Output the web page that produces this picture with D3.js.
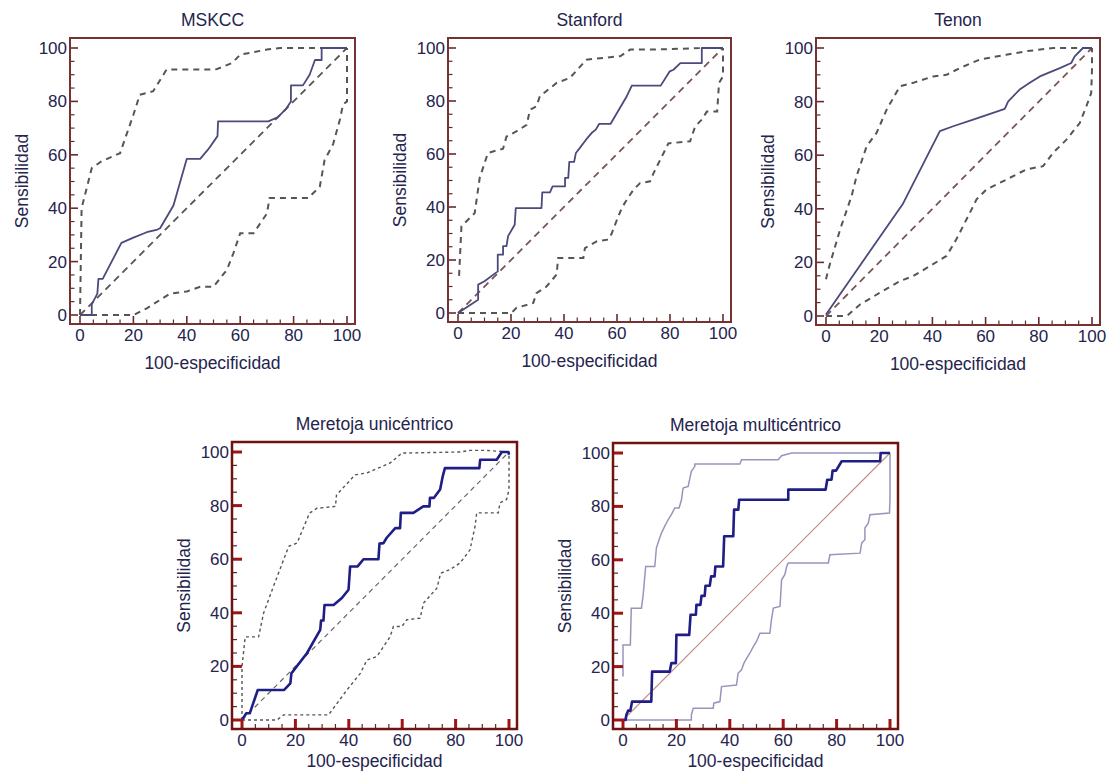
<!DOCTYPE html>
<html>
<head>
<meta charset="utf-8">
<script src="https://cdn.jsdelivr.net/npm/d3@7"></script>
<style>
  body { margin: 0; background: #fff; }
  text { font-family: "Liberation Sans", Arial, Helvetica, sans-serif; fill: #24244e; }
</style>
</head>
<body>
<script>
var width = 1107,
    height = 776;

// ROC curves, [100-especificidad, sensibilidad]
var mskccRoc = [[0,0],[4.4,0],[4.4,4],[6.5,8],[6.9,13.5],[8.5,13.5],[15.5,27],[20,29],[25,31],[29,32],[30,32.5],[35,41],[40,58.5],[45,58.5],[48,62],[51.5,67],[51.7,72.5],[70.5,72.5],[74,74],[77,77],[79,80],[79,86],[83.5,86],[86,90],[88,95.5],[90.5,95.5],[90.5,100],[100,100]];
var mskccUpper = [[0,0],[0.6,40],[4.4,55],[8,57.5],[15,60.6],[20,75],[22.4,82.5],[27.4,83.8],[32.4,91.9],[51,92],[57,94.4],[60,97.5],[70,99.4],[75,100],[100,100]];
var mskccLower = [[0,0],[20,0],[25,2.5],[33.7,8],[40,8.8],[45,10.6],[50,10.6],[55,16.9],[57.4,23],[60,30.6],[65,30.6],[70,38],[71,43.8],[85.4,43.8],[89.8,48],[91.6,58],[94.8,64],[97.3,73],[98.5,78.8],[100,80],[100,100]];

var stanfordRoc = [[0,0],[7.6,5],[7.6,10.7],[10,12],[15,15.7],[15,22],[17,22],[17,25.2],[18.3,25.2],[18.9,29],[21.4,33.3],[21.8,39.6],[31.5,39.6],[31.8,45.5],[34.7,45.5],[35.7,47.8],[40.4,47.8],[40.4,51],[41.6,51],[42,57],[43.8,57],[44.5,60.4],[46,62.3],[48.3,65.4],[50.4,67.9],[52,69.2],[53.3,71.4],[57.6,71.4],[63.7,81.8],[65.6,85.8],[76.5,85.8],[79.9,91.2],[81.3,91.8],[83.9,94.3],[92,94.3],[92,100],[100,100]];
var stanfordUpper = [[0.4,14],[1.3,32.7],[6.3,37.7],[8.2,51],[11.3,60.4],[17,62],[18.3,66.6],[22,68.5],[25.9,71],[27.2,76.7],[29.6,78],[30.9,81.8],[37.2,86.8],[42.2,88.7],[48.5,95.6],[61.2,96.9],[65,99.4],[77.6,99.5],[92.7,100],[100,100]];
var stanfordLower = [[0,0],[20.2,0],[22,1.9],[28.4,3.8],[29.6,7.5],[33.4,10],[37.2,14.5],[37.8,20.8],[47.3,20.8],[47.9,24.5],[52.3,27],[56.7,27.7],[58,30],[59.9,35],[61.8,39.6],[63.7,42.8],[66.2,46.5],[68.7,49],[72.5,49.7],[73.8,52.8],[77.6,60.4],[79.4,64],[87.6,64.8],[89.5,70.4],[92,73],[93.9,76],[97.8,76],[98.5,86.8],[100,89.3],[100,100]];

var tenonRoc = [[0,0.6],[29,42],[42.8,69],[47.8,70.8],[55.3,73.3],[62.8,75.8],[67.2,77.3],[68.5,80.1],[72.8,84.5],[76.6,87],[80.4,89.4],[87.9,92.5],[92.2,94.4],[93.5,96.9],[96.6,100],[100,100]];
var tenonUpper = [[0,13.7],[0.9,17.4],[5.3,32.3],[9.6,44.7],[11.5,52.2],[15.3,63.4],[19,68.3],[22.8,77],[27.8,85.7],[32.8,87],[40.3,89.4],[45.3,90],[50.3,92.5],[57.8,95.7],[67.8,97.5],[75.3,98.8],[85.4,100],[100,100]];
var tenonLower = [[0,0],[7.8,0],[12.8,4.3],[20.3,8.7],[27.8,13],[32.8,14.9],[39,18.6],[45.3,22.4],[49,28.6],[52.8,36],[56.6,43.5],[60.3,47.2],[67.8,50.9],[75.3,54.7],[81.6,55.9],[85.4,60.9],[90.4,65.8],[95.4,72],[97.9,78.3],[99.7,83.2],[100,92],[100,100]];

var uniRoc = [[0,0],[1.2,1.9],[1.6,2.5],[2.9,2.5],[5.9,11.2],[15.8,11.2],[18.1,13.7],[18.5,17.4],[24.3,24.9],[29.3,33.6],[29.6,37.1],[30.5,37.1],[30.9,42.9],[34.3,42.9],[37.4,45.5],[39.9,48.6],[40.5,57.3],[43.3,57.3],[45.5,60],[51.1,60],[51.5,65.8],[53,66],[54.2,68],[57.4,71.6],[59.2,71.6],[59.5,77.3],[64.2,77.3],[67.9,79.7],[70.2,79.7],[70.4,82.9],[71.9,82.9],[74.2,86],[75.2,91],[76,94],[88.9,94],[89.2,97.1],[95.4,97.1],[97.3,100],[99.8,100],[100,99]];
var uniUpper = [[0,0],[0,20],[1.2,31],[6.2,31],[8.1,39.9],[11.8,49.9],[17.5,64.8],[20.6,66],[25.3,77.2],[28.1,79],[35,79.7],[35.4,84],[42.4,91.5],[46.8,92.2],[55.5,95.9],[59.9,99.6],[81.7,100],[85.4,100.6],[91.6,100.6],[100,100]];
var uniLower = [[0,0],[13.1,0],[15.6,1.9],[32.4,1.9],[39.3,11.2],[44.3,17.4],[46.8,22.4],[50.5,23.7],[55.5,31.1],[56.7,34.9],[59.9,34.9],[61.7,37.4],[66.7,38],[68,43.6],[73,49.2],[74.4,54.8],[77.9,56.1],[81.7,58.6],[85.4,63.5],[87.3,72.3],[87.9,77.3],[96,77.3],[96.6,81],[99.1,82.3],[100,86],[100,99.6]];

var multiRoc = [[0,0],[1,0],[1.25,1.9],[1.9,3.5],[2.75,3.5],[3.4,6.9],[10.6,6.9],[10.9,18.1],[17.5,18.1],[18.1,21.3],[19.8,21.3],[20,31.9],[24.8,31.9],[25.3,39.4],[27.3,39.4],[27.5,43.1],[29,43.1],[29.4,46.5],[30.6,46.5],[30.9,50.3],[32.5,50.3],[33,53.8],[34.3,53.8],[34.6,57.5],[37.5,57.5],[37.9,68.8],[41.3,68.8],[41.6,78.8],[43.2,78.8],[43.5,82.5],[61.9,82.5],[61.9,86.3],[75.9,86.3],[76.5,90],[78.1,90],[78.5,93.4],[79.8,93.4],[81.9,96.9],[96.3,96.9],[96.5,100],[100,100]];
var multiUpper = [[0,16.3],[0,28.1],[2.75,28.1],[3.1,41.9],[6.9,41.9],[7.5,46.3],[8.5,57.5],[11.9,57.5],[12.5,64.4],[13.5,67.5],[14.4,70],[15.6,72.5],[16.9,75],[18.1,76.9],[19.4,79.4],[21,79.4],[21.9,82.5],[22.5,86.9],[24.4,87.5],[25.6,93.1],[26.9,95],[26.9,95.9],[43.8,95.9],[44.4,97.5],[58.1,97.5],[59.4,99],[63.1,100],[100,100]];
var multiLower = [[0,0],[25.6,0],[25.6,1.9],[26.3,4.4],[33.8,4.4],[34,6.3],[36.3,6.9],[36.9,12.5],[42.5,13.1],[43.1,17.5],[44.4,18.8],[45.3,21.3],[46.3,23.1],[47.5,25],[48.8,27.5],[50,29.4],[51.3,32.5],[55,32.5],[55.6,37.5],[56.3,41.9],[58.8,42.5],[59.4,52.5],[60.6,54.4],[61.3,57.5],[61.9,58.8],[76.9,58.8],[77.5,61.9],[88.8,62.5],[89.4,66.3],[90.6,67.5],[90.6,71.9],[91.9,73.8],[92.5,76.9],[99.8,77.5],[100,82.5],[100,100]];

var diagonal = [[0,0],[100,100]];
var tickValues = [0, 20, 40, 60, 80, 100];
var xLabel = "100-especificidad",
    yLabel = "Sensibilidad";

// panel layout: pixel span of 0..100 on each axis
var panels = [
  {title: "MSKCC", roc: mskccRoc, upper: mskccUpper, lower: mskccLower, x0: 80, x1: 347, y0: 315, y1: 48, style: "top", labGap: 45},
  {title: "Stanford", roc: stanfordRoc, upper: stanfordUpper, lower: stanfordLower, x0: 458, x1: 723, y0: 313, y1: 48, style: "top", diagColor: "#7a5555", labGap: 45},
  {title: "Tenon", roc: tenonRoc, upper: tenonUpper, lower: tenonLower, x0: 826, x1: 1092, y0: 316, y1: 48, style: "top", diagColor: "#7a5555", labGap: 45},
  {title: "Meretoja unicéntrico", roc: uniRoc, upper: uniUpper, lower: uniLower, x0: 242, x1: 509, y0: 720, y1: 452, style: "uni", labGap: 38},
  {title: "Meretoja multicéntrico", roc: multiRoc, upper: multiUpper, lower: multiLower, x0: 623, x1: 890, y0: 720, y1: 453, style: "multi", labGap: 38}
];

var styles = {
  top:   {frame: "#763232", frameW: 2, major: "#6a2a2a", majorW: 1.6, majorL: 8, minorL: 4.5,
          roc: "#4a4a7c", rocW: 1.8,
          ci: "#555", ciW: 2, ciDash: "6,5",
          diag: "#555", diagW: 1.8, diagDash: "7,5"},
  uni:   {frame: "#6e1212", frameW: 2.5, major: "#a01414", majorW: 3, majorL: 10, minorL: 5,
          roc: "#1e1e86", rocW: 2.6,
          ci: "#555", ciW: 1.4, ciDash: "3,3",
          diag: "#666", diagW: 1.2, diagDash: "5,4"},
  multi: {frame: "#6e1212", frameW: 2.5, major: "#a01414", majorW: 3, majorL: 10, minorL: 5,
          roc: "#1e1e86", rocW: 2.6,
          ci: "#9696bc", ciW: 1.5, ciDash: null,
          diag: "#c0908a", diagW: 1.2, diagDash: null}
};

var svg = d3.select("body").append("svg")
    .attr("width", width)
    .attr("height", height);

panels.forEach(drawPanel);

function drawPanel(p) {
  var s = styles[p.style];
  var x = d3.scaleLinear().domain([0, 100]).range([p.x0, p.x1]);
  var y = d3.scaleLinear().domain([0, 100]).range([p.y0, p.y1]);

  var left = p.x0 - 10, right = p.x1 + 8,
      top = p.y1 - 10, bottom = p.y0 + 9;
  var cx = (left + right) / 2, cy = (top + bottom) / 2;

  var g = svg.append("g");

  var line = d3.line()
      .x(function(d) { return x(d[0]); })
      .y(function(d) { return y(d[1]); });

  // confidence bounds and diagonal
  [p.upper, p.lower].forEach(function(band) {
    g.append("path")
      .attr("d", line(band))
      .attr("fill", "none")
      .attr("stroke", s.ci)
      .attr("stroke-width", s.ciW)
      .attr("stroke-dasharray", s.ciDash);
  });

  g.append("path")
    .attr("d", line(diagonal))
    .attr("fill", "none")
    .attr("stroke", p.diagColor || s.diag)
    .attr("stroke-width", s.diagW)
    .attr("stroke-dasharray", s.diagDash);

  g.append("path")
    .attr("d", line(p.roc))
    .attr("fill", "none")
    .attr("stroke", s.roc)
    .attr("stroke-width", s.rocW)
    .attr("stroke-linejoin", "round");

  // ticks every 5, pointing in from the left and bottom edges
  d3.range(0, 101, 5).forEach(function(v) {
    var isMajor = v % 20 == 0;
    var len = isMajor ? s.majorL : s.minorL;
    var col = isMajor ? s.major : "#5a2a2a";
    var w = isMajor ? s.majorW : 1.2;
    g.append("line")
      .attr("x1", left).attr("x2", left + len)
      .attr("y1", y(v)).attr("y2", y(v))
      .attr("stroke", col).attr("stroke-width", w);
    g.append("line")
      .attr("x1", x(v)).attr("x2", x(v))
      .attr("y1", bottom).attr("y2", bottom - len)
      .attr("stroke", col).attr("stroke-width", w);
  });

  // frame
  g.append("rect")
    .attr("x", left).attr("y", top)
    .attr("width", right - left).attr("height", bottom - top)
    .attr("fill", "none")
    .attr("stroke", s.frame)
    .attr("stroke-width", s.frameW);

  // tick labels
  g.selectAll(".ylab").data(tickValues).enter().append("text")
    .attr("x", left - 3)
    .attr("y", function(d) { return y(d) + 6; })
    .attr("text-anchor", "end")
    .style("font-size", "17px")
    .text(function(d) { return d; });

  g.selectAll(".xlab").data(tickValues).enter().append("text")
    .attr("x", function(d) { return x(d); })
    .attr("y", bottom + 17)
    .attr("text-anchor", "middle")
    .style("font-size", "17px")
    .text(function(d) { return d; });

  g.append("text")
    .attr("x", cx).attr("y", top - 12)
    .attr("text-anchor", "middle")
    .style("font-size", "17.5px")
    .text(p.title);

  g.append("text")
    .attr("x", cx).attr("y", bottom + p.labGap)
    .attr("text-anchor", "middle")
    .style("font-size", "17.5px")
    .text(xLabel);

  g.append("text")
    .attr("transform", "translate(" + (left - 42) + "," + cy + ") rotate(-90)")
    .attr("text-anchor", "middle")
    .style("font-size", "17.5px")
    .text(yLabel);
}
</script>
</body>
</html>
